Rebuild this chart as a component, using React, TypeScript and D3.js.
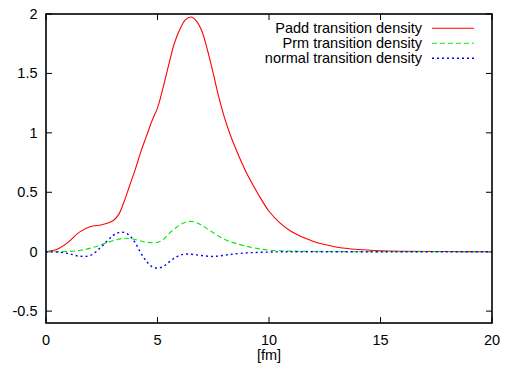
import React from "react";
import * as d3 from "d3";

const rGrid = [0, 0.5, 1, 1.5, 2, 2.5, 3, 3.25, 3.5, 3.75, 4, 4.25, 4.5, 4.75, 5, 5.25, 5.5, 5.75, 6, 6.25, 6.5, 6.75, 7, 7.25, 7.5, 7.75, 8, 8.25, 8.5, 9, 9.5, 10, 10.5, 11, 12, 13, 14, 15, 16, 18, 20];
const paddValues = [0, 0.02, 0.08, 0.165, 0.212, 0.226, 0.26, 0.31, 0.42, 0.555, 0.69, 0.84, 0.97, 1.1, 1.21, 1.38, 1.57, 1.75, 1.87, 1.95, 1.975, 1.94, 1.85, 1.69, 1.5, 1.3, 1.13, 0.99, 0.87, 0.66, 0.49, 0.34, 0.24, 0.17, 0.085, 0.04, 0.018, 0.008, 0.004, 0.001, 0];
const prmValues = [0, 0, 0.002, 0.01, 0.03, 0.06, 0.092, 0.105, 0.113, 0.11, 0.103, 0.09, 0.08, 0.075, 0.08, 0.1, 0.15, 0.19, 0.225, 0.248, 0.255, 0.245, 0.22, 0.19, 0.16, 0.13, 0.105, 0.085, 0.07, 0.045, 0.026, 0.013, 0.008, 0.005, 0.002, 0.001, 0, 0, 0, 0, 0];
const normalValues = [0, -0.003, -0.015, -0.038, -0.03, 0.045, 0.135, 0.16, 0.162, 0.135, 0.075, -0.01, -0.08, -0.125, -0.138, -0.125, -0.09, -0.055, -0.03, -0.02, -0.022, -0.027, -0.033, -0.038, -0.04, -0.036, -0.03, -0.024, -0.018, -0.01, -0.006, -0.003, -0.001, 0, 0, 0, 0, 0, 0, 0, 0];

const xTicks = [0, 5, 10, 15, 20];
const yTicks = [-0.5, 0, 0.5, 1, 1.5, 2];
const xLabel = "[fm]";

const seriesNames = ["Padd transition density", "Prm transition density", "normal transition density"];
const seriesColors = ["#ff0000", "#00ee00", "#0000ff"];
const seriesDash = ["none", "5,3", "2,3"];
const seriesData = [paddValues, prmValues, normalValues];

export default function App() {
  const W = 508, H = 370;
  const left = 46, right = 492, top = 14, bottom = 323;
  const x = d3.scaleLinear().domain([0, 20]).range([left, right]);
  const y = d3.scaleLinear().domain([-0.6, 2]).range([bottom, top]);
  const line = d3
    .line<[number, number]>()
    .x((d) => x(d[0]))
    .y((d) => y(d[1]))
    .curve(d3.curveCatmullRom.alpha(0.5));
  const font = "'Liberation Sans', Arial, Helvetica, sans-serif";
  const fs = 14.5;
  const tick = 6;

  return (
    <svg width={W} height={H} style={{ position: "absolute", left: 0, top: 0, background: "#fff" }}>
      <rect x={0} y={0} width={W} height={H} fill="#fff" />
      <defs>
        <clipPath id="plotclip">
          <rect x={left} y={top} width={right - left} height={bottom - top} />
        </clipPath>
      </defs>
      {xTicks.map((t) => (
        <g key={"xt" + t}>
          <line x1={x(t)} x2={x(t)} y1={bottom} y2={bottom - tick} stroke="#000" strokeWidth={1} />
          <line x1={x(t)} x2={x(t)} y1={top} y2={top + tick} stroke="#000" strokeWidth={1} />
          <text x={x(t)} y={345} textAnchor="middle" fontFamily={font} fontSize={fs} fill="#000">
            {t}
          </text>
        </g>
      ))}
      {yTicks.map((t) => (
        <g key={"yt" + t}>
          <line x1={left} x2={left + tick} y1={y(t)} y2={y(t)} stroke="#000" strokeWidth={1} />
          <line x1={right} x2={right - tick} y1={y(t)} y2={y(t)} stroke="#000" strokeWidth={1} />
          <text x={37.5} y={y(t) + 5} textAnchor="end" fontFamily={font} fontSize={fs} fill="#000">
            {t}
          </text>
        </g>
      ))}
      <text x={(left + right) / 2} y={360} textAnchor="middle" fontFamily={font} fontSize={fs} fill="#000">
        {xLabel}
      </text>
      <g clipPath="url(#plotclip)">
        {seriesData.map((vals, i) => (
          <path
            key={"s" + i}
            d={line(rGrid.map((r, k) => [r, vals[k]] as [number, number])) || ""}
            fill="none"
            stroke={seriesColors[i]}
            strokeWidth={i === 2 ? 1.4 : 1.1}
            strokeDasharray={seriesDash[i]}
          />
        ))}
      </g>
      {seriesNames.map((n, i) => (
        <g key={"lg" + i}>
          <text x={422} y={33.3 + i * 15} textAnchor="end" fontFamily={font} fontSize={fs} fill="#000">
            {n}
          </text>
          <line
            x1={432}
            x2={474}
            y1={28.3 + i * 15}
            y2={28.3 + i * 15}
            stroke={seriesColors[i]}
            strokeWidth={i === 2 ? 1.4 : 1.1}
            strokeDasharray={seriesDash[i]}
          />
        </g>
      ))}
      <rect x={left} y={top} width={right - left} height={bottom - top} fill="none" stroke="#000" strokeWidth={1.6} />
    </svg>
  );
}
